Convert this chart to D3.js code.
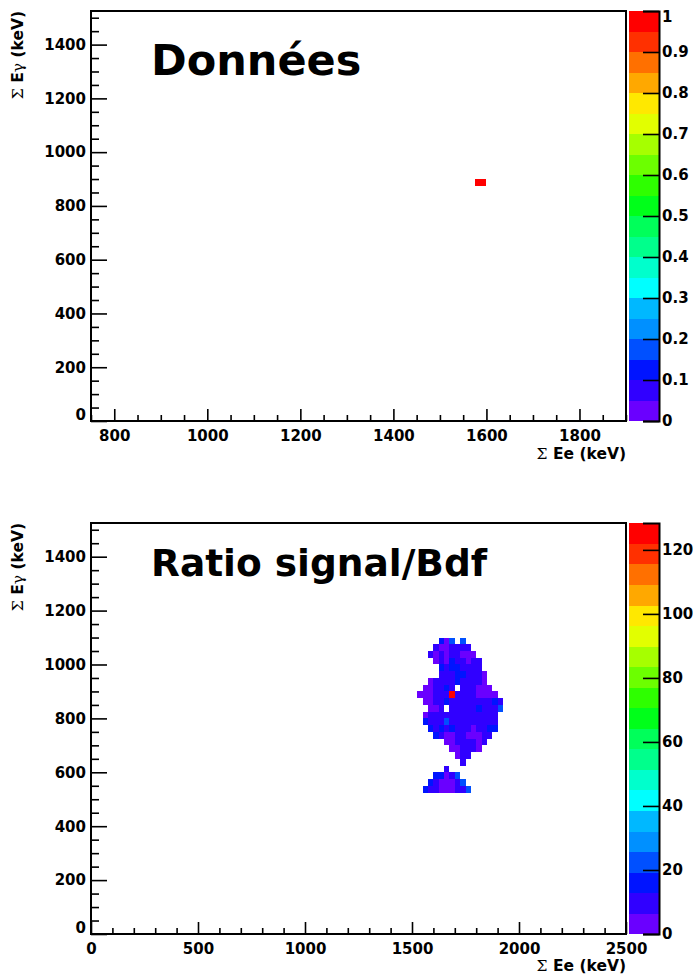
<!DOCTYPE html>
<html><head><meta charset="utf-8">
<script src="https://cdn.jsdelivr.net/npm/d3@7"></script>
<style>
body{margin:0;background:#fff}
svg{display:block}
text{font-family:"DejaVu Sans",sans-serif;font-weight:bold;fill:#000}
</style>
</head><body>
<svg id="c" width="693" height="979"></svg>
<script>
// ---------- data ----------
const palette = ["#6a00ff","#3000ff","#0014ff","#0050ff","#0090ff","#00b8ff","#00ffff","#00ffcc",
  "#00ff8c","#00ff5a","#00ff1a","#2eff00","#6cff00","#a6ff00","#e2ff00","#ffe800","#ffa800","#ff7000","#ff3000","#ff0000"];
const binSize = 25;
const titles = ["Données", "Ratio signal/Bdf"];
const topXTicks = [800, 1000, 1200, 1400, 1600, 1800];
const bottomXTicks = [0, 500, 1000, 1500, 2000, 2500];
const yTicks = [0, 200, 400, 600, 800, 1000, 1200, 1400];
const topZTicks = [0, 0.1, 0.2, 0.3, 0.4, 0.5, 0.6, 0.7, 0.8, 0.9, 1];
const topZLabels = ["0", "0.1", "0.2", "0.3", "0.4", "0.5", "0.6", "0.7", "0.8", "0.9", "1"];
const bottomZTicks = [0, 20, 40, 60, 80, 100, 120];
const topZMax = 1;
const bottomZMax = 128.4;

// Données: one filled bin (lower-left corner, content)
const donneesX = [1575];
const donneesY = [875];
const donneesV = [1];

// Ratio signal/Bdf: bins of 25 keV, columns start at 1500 keV
const ratioColStart = 1500;
const ratioRowY = [1075,1050,1025,1000,975,950,925,900,875,850,825,800,775,750,725,700,675,650,625,600,575,550,525];
const ratioRows = [
  [0,0,0,0,0,16,4,22,0,22,0,0,0,0,0,0,0],
  [0,0,0,0,9,4,4,9,9,9,9,0,0,0,0,0,0],
  [0,0,0,9,4,9,4,9,9,4,4,4,0,0,0,0,0],
  [0,0,0,0,4,9,4,16,9,9,4,9,9,0,0,0,0],
  [0,0,0,0,0,16,9,16,16,9,9,9,9,0,0,0,0],
  [0,0,0,0,0,9,9,9,16,16,9,9,9,4,0,0,0],
  [0,0,0,4,9,9,9,9,16,9,9,9,9,4,0,0,0],
  [0,0,4,4,9,9,16,9,0,9,9,9,4,4,4,0,0],
  [0,4,4,4,9,9,9,128.4,9,9,9,9,4,4,4,4,0],
  [0,0,4,4,9,9,16,9,9,9,9,9,9,9,9,16,9],
  [0,0,0,4,4,9,0,9,9,9,9,9,16,9,9,9,22],
  [0,0,4,9,9,9,9,9,9,9,9,9,9,9,9,9,0],
  [0,0,16,9,9,9,22,9,9,9,9,9,9,9,9,9,0],
  [0,0,0,16,9,16,9,16,9,9,9,4,9,9,16,16,0],
  [0,0,0,0,16,9,4,4,9,9,4,4,4,9,9,0,0],
  [0,0,0,0,0,0,4,4,9,9,9,9,4,9,0,0,0],
  [0,0,0,0,0,0,0,4,4,9,9,9,4,0,0,0,0],
  [0,0,0,0,0,0,0,0,4,9,9,0,0,0,0,0,0],
  [0,0,0,0,0,0,0,0,0,9,0,0,0,0,0,0,0],
  [0,0,0,0,0,0,9,0,0,0,0,0,0,0,0,0,0],
  [0,0,0,0,16,16,4,9,22,0,0,0,0,0,0,0,0],
  [0,0,0,16,9,4,4,4,9,22,0,0,0,0,0,0,0],
  [0,0,16,9,9,4,4,4,9,9,22,0,0,0,0,0,0]
];

// ---------- build cell lists ----------
const donneesCells = donneesX.map((x, i) => ({x, y: donneesY[i], v: donneesV[i]}));
const ratioCells = [];
ratioRows.forEach((row, r) => row.forEach((v, c) => {
  if (v > 0) ratioCells.push({x: ratioColStart + c * binSize, y: ratioRowY[r], v});
}));

// ---------- layout ----------
const panels = [
  {top: 11, bottom: 421, xDomain: [750, 1900], xTicks: topXTicks, xMinor: 50,
   zMax: topZMax, zTicks: topZTicks, zFmt: (d, i) => topZLabels[i], cells: donneesCells,
   title: titles[0], titleY: 75, titleSize: 43, xTitleY: 459},
  {top: 523, bottom: 934, xDomain: [0, 2500], xTicks: bottomXTicks, xMinor: 100,
   zMax: bottomZMax, zTicks: bottomZTicks, zFmt: d => String(d), cells: ratioCells,
   title: titles[1], titleY: 576, titleSize: 37.5, xTitleY: 971}
];
const left = 91, right = 626, barL = 629, barR = 659;
const svg = d3.select("#c");
svg.append("rect").attr("width", 693).attr("height", 979).attr("fill", "#fff");

function axisTitle(g, parts, anchor) {
  const t = g.append("text").attr("text-anchor", anchor).style("font-size", "15.5px");
  parts.forEach(p => {
    const s = t.append("tspan").text(p[0]);
    if (p[1]) s.style("font-family", "'DejaVu Serif',serif").style("font-weight", "normal");
  });
  return t;
}

panels.forEach(P => {
  const g = svg.append("g");
  const x = d3.scaleLinear().domain(P.xDomain).range([left, right]);
  const y = d3.scaleLinear().domain([0, 1525]).range([P.bottom, P.top]);
  const z = d3.scaleQuantize().domain([0, P.zMax]).range(palette);

  // cells
  g.append("g").selectAll("rect").data(P.cells).join("rect")
    .attr("x", d => x(d.x)).attr("width", d => x(d.x + binSize) - x(d.x))
    .attr("y", d => y(d.y + binSize)).attr("height", d => y(d.y) - y(d.y + binSize))
    .attr("fill", d => z(d.v)).attr("shape-rendering", "crispEdges");

  // minor ticks
  const xMinor = d3.range(P.xDomain[0], P.xDomain[1] + 1, P.xMinor).filter(v => !P.xTicks.includes(v));
  const yMinor = d3.range(0, 1526, 50).filter(v => !yTicks.includes(v));
  g.append("g").attr("transform", `translate(0,${P.bottom})`)
    .call(d3.axisBottom(x).tickValues(xMinor).tickSize(-6).tickFormat(""));
  g.append("g").attr("transform", `translate(${left},0)`)
    .call(d3.axisLeft(y).tickValues(yMinor).tickSize(-8).tickFormat(""));

  // major ticks
  const gx = g.append("g").attr("transform", `translate(0,${P.bottom})`)
    .call(d3.axisBottom(x).tickValues(P.xTicks).tickSize(-12).tickPadding(9).tickFormat(d3.format("d")));
  const gy = g.append("g").attr("transform", `translate(${left},0)`)
    .call(d3.axisLeft(y).tickValues(yTicks).tickSize(-16).tickPadding(5).tickFormat(d3.format("d")));
  gy.selectAll(".tick text").filter(d => d === 0).attr("dy", "-0.08em");
  [gx, gy].forEach(a => {
    a.selectAll(".domain").remove();
  });
  g.selectAll(".tick line").attr("stroke", "#000").attr("stroke-width", 1.6);
  g.selectAll(".tick text").style("font-size", "15px").style("font-family", "'DejaVu Sans',sans-serif").attr("fill", "#000");

  // frame
  g.append("rect").attr("x", left).attr("y", P.top).attr("width", right - left).attr("height", P.bottom - P.top)
    .attr("fill", "none").attr("stroke", "#000").attr("stroke-width", 2);

  // colour bar
  const zs = d3.scaleLinear().domain([0, P.zMax]).range([P.bottom, P.top]);
  const bandH = (P.bottom - P.top) / palette.length;
  g.append("g").selectAll("rect").data(palette).join("rect")
    .attr("x", barL).attr("width", barR - barL)
    .attr("y", (d, i) => P.bottom - (i + 1) * bandH).attr("height", bandH + 0.3)
    .attr("fill", d => d).attr("shape-rendering", "crispEdges");
  const gz = g.append("g").attr("transform", `translate(${barR},0)`)
    .call(d3.axisRight(zs).tickValues(P.zTicks).tickSize(-16).tickPadding(3).tickFormat(P.zFmt));
  gz.selectAll(".domain").attr("stroke", "#000").attr("stroke-width", 2);
  gz.selectAll(".tick line").attr("stroke", "#000").attr("stroke-width", 1.6);
  gz.selectAll(".tick text").style("font-size", "15px").attr("fill", "#000");
  gz.selectAll(".tick text").filter(d => d === P.zMax).attr("dy", "0.7em");

  // titles
  g.append("text").attr("x", 151).attr("y", P.titleY).style("font-size", P.titleSize + "px").text(P.title);
  axisTitle(g, [["Σ", true], [" Ee (keV)", false]], "end").attr("x", right).attr("y", P.xTitleY);
  axisTitle(g, [["Σ", true], [" E", false], ["γ", true], [" (keV)", false]], "end")
    .attr("transform", `translate(23,${P.top}) rotate(-90)`);
});
</script>
</body></html>
